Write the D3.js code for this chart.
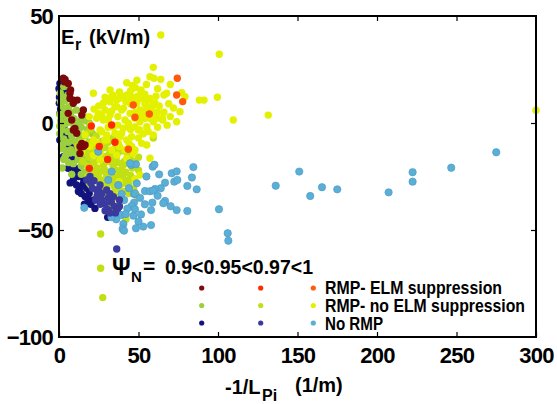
<!DOCTYPE html>
<html lang="en">
<head>
    <meta charset="UTF-8">
    <title>Er vs -1/LPi</title>
    <script src="https://cdn.jsdelivr.net/npm/d3@7"></script>
    <style>
        body, html { margin: 0; padding: 0; background: #fff; overflow: hidden; }
        svg { display: block; }
        text { font-family: 'Liberation Sans', Arial, sans-serif; font-weight: bold; }
    </style>
</head>
<body>
    <svg id="mainsvg"></svg>
    <script>
        // ---- data: [ -1/LPi (1/m), Er (kV/m) ] ----
        const xTicks = [0, 50, 100, 150, 200, 250, 300];
        const yTicks = [-100, -50, 0, 50];

        const darkRed09 = [[2.7,20.9],[3.8,20.4],[5.8,18.5],[3.3,19.3],[7.3,15.4],[6.9,13.9],[9,10.7],[11.5,10.7],[9,9.2],
            [15.3,6.1],[14.3,3.7],[5.8,4.5],[8,1.4],[10,-2.5],[9,-3.3],[11.1,-4.8],[13.2,-11],[15.3,-11],[16.4,-10.3],
            [13.2,-14.2],[14.3,-9.5],[6.9,11.5]];
        const red095 = [[20.3,-1.4],[33.1,-0.9],[35.2,-9],[25.3,-11],[30.6,-17],[19.1,-21.2]];
        const orange097 = [[74.4,20.9],[74,13.1],[77.8,10],[46.7,8.4],[47.8,2.7],[56.8,4.2],[43.6,-12.3]];

        const green09 = [[0.8,14],[2,12],[4,10.5],[1.5,8],[3.5,6.5],[6,7.5],[2.5,4],[5,2.5],[7.5,5],[1,1],[4,-0.5],
            [6.5,0.5],[9.5,2],[11,-1],[2,-3],[5.5,-4],[8,-6],[12.5,-5],[14,-2],[3,-7.5],[6,-9],[10,-8.5],[13,-7],[16.5,-6],
            [1.5,-12],[4.5,-13],[7.5,-12.5],[10.5,-14],[12,-17],[15,-15],[17.5,-12],[19,-9],[3,-17],[6,-18.5],[9,-19],
            [14,-20],[16,-23],[18.5,-19],[21,-15],[8,-24],[19,-28],[22,-24],[0.5,-1.5],
            [2,-21],[23.7,-23.5],[8.5,9],[11,6],[13.5,1],[16,3],[18,-3],[21,-5],[3,17],[1,10],[5.5,13],
            [0.5,4],[0.5,-5],[2.5,-10],[7,-14],[10,-3.5],[12,-12],[14,-24],[17,-17],[19,-22],[20,-12],[9.5,-1],
            [4,-15.5],[11.5,-10],[15,-10],[17,1],[19,0]];
        const yellowGreen095 = [[42.1,-45],[26.2,-51.9],[26.2,-67.9],[27.5,-81.6],[47.2,-26.2],[59.3,-7],[43.6,-26.6],
            [40.5,-28.2],[38.4,-23.5],[18,-9.5],[20.5,-12],[23,-11],[26,-12.5],[29,-11.5],[32,-14],[35,-12],[19,-16],
            [22,-18.5],[25,-17],[28,-19.5],[31,-18],[34,-20],[37,-18.5],[40,-20],[43,-19],[46,-21],[21,-22],[24,-24],
            [27,-22.5],[30,-25],[33,-23.5],[36,-25.5],[39,-26],[42,-23],[45,-24.5],[26,-28],[29,-29.5],[32,-28],[35,-30],
            [38,-31],[41,-32],[44,-29],[28,-33],[31,-34.5],[34,-33],[37,-35],[30,-38],[33,-39.5],[16,-13],[14,-9],[17,-5],
            [20,-3],[23.5,-6],[27,-8.5],[31,-9],[34,-7],[37,-14],[40,-13],[43,-14.5],[45,-17],[48,-18],[50,-16],[23,-26.5],
            [20,-29],[24,-31.5],[24.7,-32.8],[47,-31],[49,-34],[18,-25],[12,-11],[15,-18],[30,-15.5],[36,-22],[50,-22],
            [22,-14],[27,-15.5],[33,-17],[36,-16],[39,-22],[41,-18],[24,-21],[27,-27],[30,-30],[34,-27],[37,-29],[40,-25],
            [43,-27],[25,-25.5],[29,-22],[32,-24.5],[35,-34],[40,-36],[27,-30],[21,-25],[18,-20],[17,-14],[44,-33],[38,-38]];
        const yellow097 = [[64,41.1],[100.8,32.1],[59.3,26],[57.2,21.6],[59.7,20.9],[64,20.4],[42.6,18.8],[21.6,13.9],
            [32.1,15.4],[37.7,11.5],[40.5,12.3],[42.6,13.1],[51.6,15.4],[67.7,13.9],[66,13.1],[77.2,14.2],[79.2,12.3],
            [88.3,10.7],[91.2,10.7],[99.6,12],[46.7,11.8],[53,11.5],[56.2,10.7],[76.1,5.3],[65,2.2],[109.6,1.4],[131.6,3.7],
            [300,6],[23.7,2.2],[26.9,3.7],[30,1.7],[36.3,7.6],[40.5,6.9],[44.7,4.5],[50.9,6.1],[55.2,7.6],[59.3,8.4],
            [59.3,-5.6],[57.2,-16.5],[50.9,-24.3],[46.7,-14.2],[45.7,-11],[42.6,-7.9],[38.4,-6.4],[40.5,-2.5],[43.6,-0.1],
            [47.8,-1.7],[50.9,-3.3],[55.2,-1.7],[54.1,2.2],[58.3,2.9],[25.8,-3.3],[30,-5.6],[21.6,-7.9],[16.4,-5.6],
            [19.5,-11],[25.8,-14.2],[30,-7.9],[35.2,-4.8],[25.8,-17.3],[25.8,-32.6],[37.9,-27.4],[47.8,-26.3],[74,0.6],
            [48.9,12.3],[52,11.5],[57.2,11.5],[53.5,5.3],[58.3,6.1],[59.3,3.7],[57.2,2.2],[59.3,0.6],[50.9,0.6],[47.8,2.2],
            [24.7,4.5],[28.9,6.1],[31,1.4],[26.9,-4.1],[28.9,-7.9],[39.4,6.1],[41.5,1.4],[39.4,-4.8],[45.7,-6.4],[49.9,-3.3],
            [52,-9.5],[47.8,-12.6],[41.5,-12.6],[37.3,-9.5],[33.1,-12.6],[35.2,7.6],[48.9,9.2],[43.6,-1.7],[23.7,-9.5],
            [21.6,-15],[14.3,-13.4],[36.3,-15],[42.6,-16.5],[27.9,9.2],[32.1,9.9],[36.3,10.7],[44.7,12.3],[50.9,13.1],
            [60.4,9.2],[27.9,1.4],[32.1,3.7],[50.9,2.9],[61.4,2.2],[55.2,-10.3],[65.2,1.4],
            [34,13],[38,14.5],[45,15],[48,16.5],[54,13.5],[61,12.5],[63,8],[62,5],[45,9],[42,10],[33,12],[29,12],
            [25,8],[22,6.5],[19,3],[20,-1],[33,5.5],[37,3],[34,-2],[37,-1],[31,-2],[45,-3],[48,5],[54,9],[38,-11],
            [44,-9.5],[50,-7],[53,-5],[56,-4],[62,-2],[66,5],[69,9],[72,7],[70,3],[68,-1],[62,16],[70,18],[55,18],
            [49,20],[46,17.5]];

        const navy09 = [[0.6,18.5],[1.3,15.4],[3.1,17],[0,16],[4.8,13.9],[0.2,9.2],[0.6,4.5],[2.7,2.9],[3.8,0.6],[3.1,-2.5],
            [2.7,-4.8],[6.9,-5.6],[4.8,-7.2],[1.7,-11],[8,-9.5],[4.8,-11],[10,-12.6],[5.8,-15],[8,-15],[2.7,-15.7],[9,-17.3],
            [6.9,-20.4],[5.8,-21.2],[11.1,-21.2],[10.1,-22],[13.2,-23.5],[9,-24.3],[12.2,-25],[15.3,-25.8],[9,-26.6],
            [15.3,-28.2],[13.2,-30.5],[17.4,-30.5],[12.2,-32],[16.4,-34.4],[18.5,-36],[18.4,-36.8],[22.6,-39.9],[30.6,-44.1],
            [0.3,12],[1,6.5],[0.5,-8],[7,-28],[11,-29],[14,-33],[19,-33],[20,-38],[16,-38],[22,-36]];
        const midBlue095 = [[19.5,-25],[25.8,-29],[30,-31.3],[23.7,-31.3],[17.4,-26.6],[34.2,-34.4],[20,-28],[22,-27],
            [27,-33],[31,-35],[33,-37],[29,-38],[35,-39],[37,-40],[31,-40.5],[27,-36],[24,-34],[36.3,-58.9],[29,-41],
            [38,-36],[21,-30.5],[25,-31],[32,-33],[35.5,-42],[26,-38],[32,-42],[38,-39],[23,-36]];
        const lightBlue097 = [[58.9,-20.4],[84.5,-20.6],[70.9,-23.5],[74,-22.6],[83.6,-25.5],[72.5,-27.4],[74.4,-26.6],
            [66.7,-27.9],[80.7,-29.4],[86.6,-31],[64,-30.5],[60.4,-30.8],[54.1,-31.8],[57.2,-31.9],[59.3,-31.6],[66.7,-36.4],
            [65.6,-37.5],[58.7,-37.2],[70.2,-38.9],[74,-40.7],[80.7,-41.1],[100.6,-40.3],[57.9,-40.7],[47.2,-33.2],
            [47.2,-37.2],[45.7,-38.8],[51.6,-42.7],[46.8,-43.3],[53,-48.4],[57.9,-47.7],[48.4,-49.2],[45.5,-19.6],
            [15.9,-39.6],[40.5,-47.2],[40,-49.5],[40.9,-50.3],[47.8,-40.3],[106.1,-51.5],[106.5,-55],[24.7,-13.4],
            [48.4,-19.3],[37.3,-29],[39.4,-33.2],[47.8,-32.9],[136.3,-29.3],[151.1,-22.7],[158,-34.1],[165.4,-30],
            [175,-31],[207.3,-32.4],[222.4,-23],[222.4,-27.4],[246.7,-20.9],[275,-13.7],[60,-19.5],[41,-36],[43,-40],
            [39,-43],[36,-45],[51,-35],[54,-38],[62,-34],[50,-46],[33,-44],[42,-42.5],[44,-30.5],[63,-24],[55,-25],
            [33.1,-22.7],[44.7,-18.8],[31,-26.6],[48.9,-28.2]];

        const legendRows = ['RMP- ELM suppression', 'RMP- no ELM suppression', 'No RMP'];
        const legendCols = ['0.9', '0.95', '0.97'];
        const psiLabel = '0.9<0.95<0.97<1';

        // colours (row = RMP case, column = psi range)
        const palette = [
            ['#7c0a0a', '#ff2a00', '#ff5a0a'],
            ['#9ccf3c', '#c2df14', '#e3f000'],
            ['#12137c', '#3a3a9e', '#5aafd6']
        ];

        // draw order
        const series = [
            { data: navy09, row: 2, col: 0 },
            { data: green09, row: 1, col: 0 },
            { data: yellowGreen095, row: 1, col: 1 },
            { data: yellow097, row: 1, col: 2 },
            { data: lightBlue097, row: 2, col: 2 },
            { data: midBlue095, row: 2, col: 1 },
            { data: darkRed09, row: 0, col: 0 },
            { data: red095, row: 0, col: 1 },
            { data: orange097, row: 0, col: 2 }
        ];

        const width = 557, height = 404;
        const svg = d3.select('#mainsvg').attr('width', width).attr('height', height);
        svg.append('rect').attr('width', width).attr('height', height).attr('fill', '#fff');

        const plotL = 59, plotR = 536, plotT = 16, plotB = 337;
        const xScale = d3.scaleLinear().domain([0, 300]).range([plotL, plotR]);
        const yScale = d3.scaleLinear().domain([-100, 50]).range([plotB, plotT]);

        // points
        const plot = svg.append('g');
        series.forEach(s => {
            plot.append('g').selectAll('circle').data(s.data).enter().append('circle')
                .attr('cx', d => xScale(d[0]))
                .attr('cy', d => yScale(d[1]))
                .attr('r', 3.7)
                .attr('fill', palette[s.row][s.col])
                .attr('stroke', s.row === 2 && s.col === 2 ? '#4a97c4' : 'none')
                .attr('stroke-width', 0.6);
        });

        // axes
        const tickFont = g => g.selectAll('text')
            .attr('font-size', '22px').attr('font-weight', 'bold')
            .attr('font-family', 'Liberation Sans, Arial, sans-serif')
            .attr('letter-spacing', '-0.8px').attr('fill', '#000');

        const xAxis = svg.append('g').attr('transform', `translate(0,${plotB})`)
            .call(d3.axisBottom(xScale).tickValues(xTicks).tickSizeInner(-5).tickSizeOuter(0).tickPadding(10));
        const yAxis = svg.append('g').attr('transform', `translate(${plotL},0)`)
            .call(d3.axisLeft(yScale).tickValues(yTicks).tickSizeInner(-5).tickSizeOuter(0).tickPadding(6));
        svg.append('g').attr('transform', `translate(0,${plotT})`)
            .call(d3.axisTop(xScale).tickValues(xTicks.slice(1, -1)).tickSizeInner(-5).tickSizeOuter(0).tickFormat(''));
        svg.append('g').attr('transform', `translate(${plotR},0)`)
            .call(d3.axisRight(yScale).tickValues([-50, 0]).tickSizeInner(-5).tickSizeOuter(0).tickFormat(''));

        svg.selectAll('.domain').remove();
        svg.selectAll('.tick line').attr('stroke', '#000').attr('stroke-width', 1.2);
        xAxis.call(tickFont);
        yAxis.call(tickFont);
        yAxis.selectAll('.tick').filter(d => d === 50 || d === -100).select('line').remove();

        svg.append('rect')
            .attr('x', plotL).attr('y', plotT)
            .attr('width', plotR - plotL).attr('height', plotB - plotT)
            .attr('fill', 'none').attr('stroke', '#000').attr('stroke-width', 2);

        // y title inside plot
        const yt = svg.append('text').attr('font-size', '20px').attr('fill', '#000');
        yt.append('tspan').attr('x', 61).attr('y', 44).text('E');
        yt.append('tspan').attr('x', 75).attr('y', 50).attr('font-size', '16px').text('r');
        yt.append('tspan').attr('x', 89).attr('y', 44).text('(kV/m)');

        // x title
        const xt = svg.append('text').attr('font-size', '20px').attr('fill', '#000');
        xt.append('tspan').attr('x', 225).attr('y', 394).text('-1/L');
        xt.append('tspan').attr('x', 262).attr('y', 401).attr('font-size', '16px').text('Pi');
        xt.append('tspan').attr('x', 295).attr('y', 392).text('(1/m)');

        // psi label
        svg.append('text').attr('x', 112).attr('y', 275)
            .attr('font-family', 'DejaVu Serif, serif').attr('font-weight', 'normal')
            .attr('font-size', '23px').text('\u03A8');
        svg.append('text').attr('x', 131).attr('y', 282).attr('font-size', '15px').text('N');
        svg.append('text').attr('x', 143).attr('y', 273).attr('font-size', '21px').text('=');
        svg.append('text').attr('x', 165).attr('y', 273.5).attr('font-size', '21px')
            .attr('textLength', 148).attr('lengthAdjust', 'spacingAndGlyphs').text(psiLabel);

        // legend
        const legX = [201.7, 260.7, 313.3];
        const legY = [288, 305.5, 323];
        const legW = [177, 200, 58];
        const legend = svg.append('g');
        legendRows.forEach((label, r) => {
            legendCols.forEach((c, ci) => {
                legend.append('circle').attr('cx', legX[ci]).attr('cy', legY[r]).attr('r', 2.6)
                    .attr('fill', palette[r][ci]);
            });
            legend.append('text').attr('x', 325).attr('y', legY[r] + 5.5 + r * 0.8)
                .attr('font-size', '18px').attr('fill', '#000')
                .attr('textLength', legW[r]).attr('lengthAdjust', 'spacingAndGlyphs')
                .text(label);
        });
    </script>
</body>
</html>
